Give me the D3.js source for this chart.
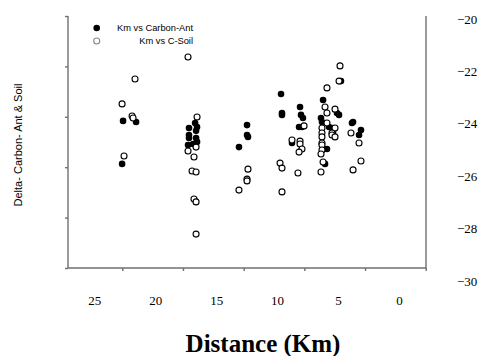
<!DOCTYPE html>
<html>
<meta charset="UTF-8">
<style>
body { margin: 0; background: #fff; }
svg { display: block; }
.frame { stroke: #707070; stroke-width: 1.4px; fill: none; }
</style>
<svg width="478" height="356"></svg>
<script src="https://cdn.jsdelivr.net/npm/d3@7"></script>
<script>
//	Km vs Carbon-Ant (filled markers)
var antDist = [22.64, 21.57, 22.72,
	17.23, 16.73, 16.57, 16.65, 17.23, 17.23, 16.65, 16.57, 16.90, 17.31,
	12.47, 12.47, 12.39, 13.13,
	9.68, 9.60, 9.60, 8.12, 8.04, 7.88, 8.20, 7.96, 8.78,
	4.76, 6.23, 5.09, 4.92, 6.40, 6.32, 5.74, 5.50, 5.41, 5.91, 6.07, 3.86, 3.77, 3.12, 3.28];
var antDelta = [-23.89, -23.93, -25.53,
	-24.16, -23.97, -24.12, -24.27, -24.43, -24.54, -24.54, -24.69, -24.77, -24.81,
	-24.05, -24.43, -24.50, -24.89,
	-22.86, -23.59, -23.66, -23.36, -23.66, -23.78, -24.12, -24.12, -24.73,
	-22.37, -23.09, -23.59, -23.66, -23.78, -23.93, -24.12, -24.16, -24.31, -24.96, -25.53, -23.97, -23.93, -24.24, -24.43];

//	Km vs C-Soil (open markers)
var soilDist = [22.72, 21.90, 21.82, 21.66, 22.56,
	17.31, 16.57, 16.65, 17.31, 16.82, 16.98, 16.65, 16.82, 16.65, 16.65,
	12.39, 12.47, 12.47, 13.13,
	9.76, 9.60, 8.29, 9.60, 7.79, 8.78, 8.12, 8.12, 7.96, 8.20,
	4.84, 4.92, 5.91, 6.07, 5.91, 5.25, 5.91, 6.32, 6.32, 5.25, 5.50, 5.50, 5.25, 6.32,
	6.32, 6.32, 6.32, 6.40, 6.23, 6.40, 3.94, 3.28, 3.12, 3.77];
var soilDelta = [-23.24, -23.70, -23.78, -22.29, -25.23,
	-21.45, -23.74, -24.89, -25.04, -25.27, -25.80, -25.84, -26.87, -26.98, -28.21,
	-25.73, -26.11, -26.18, -26.53,
	-25.50, -25.69, -25.88, -26.60, -24.08, -24.62, -24.66, -24.77, -24.96, -25.08,
	-21.79, -22.37, -22.63, -23.36, -23.59, -23.44, -23.97, -24.16, -24.35, -24.16, -24.35, -24.43, -24.50, -24.50,
	-24.73, -24.81, -25.00, -25.15, -25.46, -25.84, -24.35, -24.73, -25.42, -25.76];

//	tick values
var xTicks = [25, 20, 15, 10, 5, 0];
var yTicks = [-20, -22, -24, -26, -28, -30];

var svg = d3.select("svg");

//	plot frame
var frameL = 68, frameR = 426, frameT = 16, frameB = 268;

//	scales used for points and labels
var x = d3.scaleLinear().domain([25, 0]).range([94.3, 399]);
var y = d3.scaleLinear().domain([-30, -20]).range([281, 19]);

//	scales used for the tick marks on the frame
var xTick = d3.scaleLinear().domain([25, 0]).range([122.3, 425.7]);
var yTick = d3.scaleLinear().domain([-30, -20]).range([frameB, frameT]);

//	tick marks
svg.append("g")
	.attr("transform", "translate(0," + frameB + ")")
	.call(d3.axisBottom(xTick).tickValues(xTicks).tickSize(3).tickFormat(""))
	.call(function(g) { g.select(".domain").remove(); })
	.selectAll("line").attr("stroke", "#707070").attr("stroke-width", 1.4);

svg.append("g")
	.attr("transform", "translate(" + frameL + ",0)")
	.call(d3.axisLeft(yTick).tickValues(yTicks).tickSize(3).tickFormat(""))
	.call(function(g) { g.select(".domain").remove(); })
	.selectAll("line").attr("stroke", "#707070").attr("stroke-width", 1.4);

//	frame lines: left, bottom, right
svg.append("path")
	.attr("class", "frame")
	.attr("d", "M" + frameL + "," + frameT + "V" + frameB + "H" + frameR + "V" + frameT);

//	tick labels
function serifLabels(g) {
	g.select(".domain").remove();
	g.selectAll("text")
		.attr("font-family", "'Liberation Serif', 'Times New Roman', serif")
		.attr("font-size", "13px")
		.attr("fill", "#000");
}

svg.append("g")
	.attr("transform", "translate(0,296)")
	.call(d3.axisBottom(x).tickValues(xTicks).tickSize(0).tickPadding(0))
	.call(serifLabels);

svg.append("g")
	.attr("transform", "translate(457,0)")
	.call(d3.axisRight(y).tickValues(yTicks).tickSize(0).tickPadding(0))
	.call(serifLabels);

//	points
var ant = antDist.map(function(d, i) { return [d, antDelta[i]]; });
var soil = soilDist.map(function(d, i) { return [d, soilDelta[i]]; });

svg.append("g").selectAll("circle")
	.data(ant)
	.enter().append("circle")
	.attr("cx", function(d) { return x(d[0]); })
	.attr("cy", function(d) { return y(d[1]); })
	.attr("r", 3.3)
	.attr("fill", "#000");

svg.append("g").selectAll("circle")
	.data(soil)
	.enter().append("circle")
	.attr("cx", function(d) { return x(d[0]); })
	.attr("cy", function(d) { return y(d[1]); })
	.attr("r", 3)
	.attr("fill", "#fff")
	.attr("stroke", "#000")
	.attr("stroke-width", 1.1);

//	legend
var legend = svg.append("g")
	.attr("font-family", "'Liberation Sans', Arial, sans-serif")
	.attr("font-size", "9.3px");

legend.append("circle").attr("cx", 96.7).attr("cy", 28).attr("r", 3.3).attr("fill", "#000");
legend.append("circle").attr("cx", 96.7).attr("cy", 41).attr("r", 3)
	.attr("fill", "#fff").attr("stroke", "#888").attr("stroke-width", 1.1);
legend.append("text").attr("x", 193).attr("y", 28).attr("dy", "0.35em")
	.attr("text-anchor", "end").text("Km vs Carbon-Ant");
legend.append("text").attr("x", 193).attr("y", 41).attr("dy", "0.35em")
	.attr("text-anchor", "end").text("Km vs C-Soil");

//	axis titles
svg.append("text")
	.attr("x", 263).attr("y", 352)
	.attr("text-anchor", "middle")
	.attr("font-family", "'Liberation Serif', 'Times New Roman', serif")
	.attr("font-weight", "bold")
	.attr("font-size", "25px")
	.text("Distance (Km)");

svg.append("text")
	.attr("transform", "translate(22,145) rotate(-90)")
	.attr("text-anchor", "middle")
	.attr("font-family", "'Liberation Sans', Arial, sans-serif")
	.attr("font-size", "11px")
	.text("Delta- Carbon- Ant & Soil");
</script>
</html>
